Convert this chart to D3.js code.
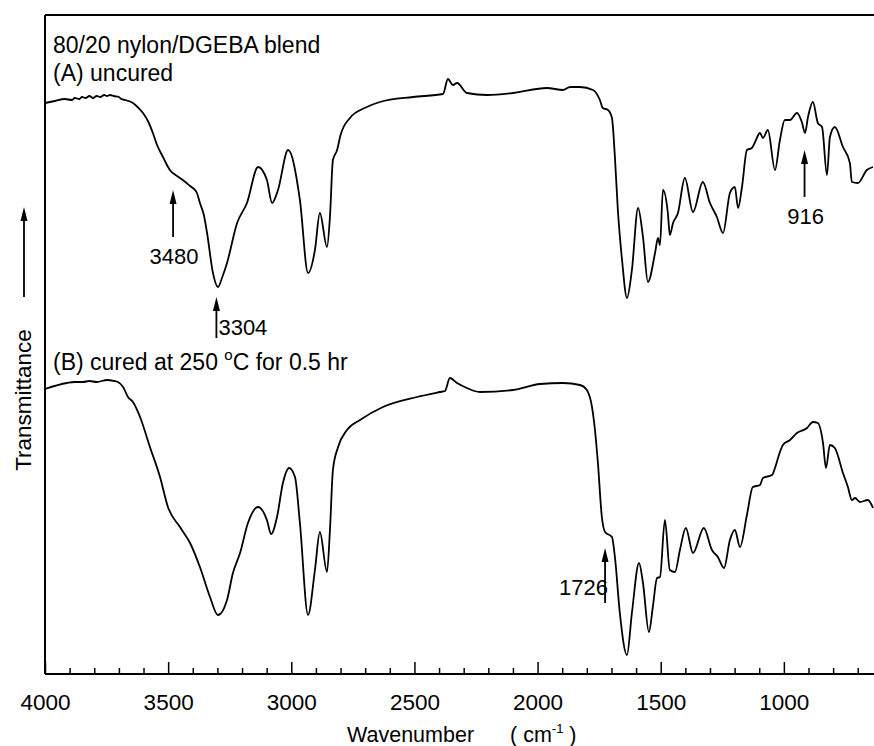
<!DOCTYPE html>
<html>
<head>
<meta charset="utf-8">
<script src="https://cdn.jsdelivr.net/npm/d3@7"></script>
<style>
body { margin: 0; background: #fff; }
text { font-family: "Liberation Sans", Arial, Helvetica, sans-serif; fill: #000; }
</style>
</head>
<body>
<div id="chart1"></div>
<script>
// FTIR spectra, transmittance in arbitrary units (no y ticks in the original)
var uncured = [
  [4000,571],[3960,573],[3920,575],[3890,574],[3880,576],[3860,575],[3850,577],[3835,576],[3820,578],[3805,576],
  [3790,578],[3775,577],[3760,579],[3748,578],[3736,579],[3720,578],[3700,577],[3690,575],[3675,574],[3660,573],
  [3643,571],[3620,566],[3602,561],[3580,552],[3562,541],[3545,529],[3521,517],[3505,509],[3493,504],[3470,499],
  [3452,496],[3430,492],[3411,488],[3400,486],[3383,481],[3371,471],[3355,459],[3342,441],[3318,401],[3298,387],
  [3280,397],[3261,411],[3220,451],[3180,471],[3135,507],[3099,494],[3078,471],[3054,484],[3013,524],[2965,474],
  [2932,401],[2904,424],[2884,461],[2855,427],[2843,457],[2831,514],[2814,524],[2800,539],[2762,556],[2693,567],
  [2640,572],[2506,577],[2384,580],[2364,595],[2344,589],[2327,591],[2287,581],[2205,579],[2100,581],[1962,586],
  [1897,584],[1868,587],[1828,587],[1775,584],[1747,574],[1735,566],[1714,564],[1698,556],[1686,517],[1674,464],
  [1657,414],[1637,376],[1617,404],[1592,466],[1572,437],[1552,392],[1523,421],[1511,436],[1503,429],[1491,484],
  [1471,461],[1463,439],[1450,451],[1430,461],[1402,496],[1369,462],[1329,492],[1300,471],[1272,457],[1247,441],
  [1219,481],[1199,487],[1186,466],[1170,487],[1150,524],[1130,526],[1117,532],[1097,541],[1085,536],[1065,544],
  [1036,504],[1016,534],[996,554],[975,554],[947,561],[927,552],[914,541],[902,557],[882,572],[862,551],
  [845,547],[825,499],[813,537],[793,547],[760,527],[732,511],[724,492],[699,491],[663,504],[638,507]
];

var cured = [
  [4000,285],[3911,291],[3880,292],[3846,292],[3820,293],[3790,292],[3748,294],[3720,293],[3704,292],[3683,287],
  [3663,277],[3643,272],[3614,257],[3574,227],[3533,197],[3501,167],[3452,147],[3411,131],[3371,107],[3330,77],
  [3298,59],[3261,74],[3237,101],[3208,121],[3176,151],[3135,167],[3099,154],[3082,140],[3058,157],[3034,191],
  [3009,206],[2985,197],[2965,151],[2932,59],[2904,104],[2884,142],[2855,102],[2843,144],[2831,204],[2810,227],
  [2774,244],[2721,254],[2628,267],[2490,277],[2396,282],[2376,283],[2356,296],[2327,291],[2287,286],[2234,282],
  [2100,284],[1990,290],[1897,291],[1828,289],[1800,284],[1779,267],[1767,244],[1755,211],[1739,157],[1726,142],
  [1698,137],[1686,117],[1666,61],[1637,19],[1617,61],[1588,111],[1572,91],[1548,42],[1532,67],[1515,96],
  [1503,97],[1483,154],[1463,104],[1442,102],[1422,124],[1398,146],[1369,121],[1325,146],[1292,124],[1268,117],
  [1243,106],[1219,134],[1199,144],[1178,127],[1150,159],[1126,187],[1097,189],[1085,196],[1048,199],[1036,206],
  [1020,219],[1004,229],[975,234],[947,241],[906,246],[882,252],[862,251],[841,231],[829,206],[813,229],
  [793,226],[760,201],[740,187],[724,174],[711,176],[691,172],[659,174],[638,166]
];

var majorTicks = [4000, 3500, 3000, 2500, 2000, 1500, 1000];
var minorTicks = [3900,3800,3700,3600,3400,3300,3200,3100,2900,2800,2700,2600,2400,2300,2200,2100,
                  1900,1800,1700,1600,1400,1300,1200,1100,900,800,700];

// band marks: label, wavenumber, arrow tip and tail (transmittance units)
var bandLabels = ["3480", "3304", "916", "1726"];
var bandWave   = [3480, 3304, 916, 1726];
var bandTip    = [484, 377, 524, 126];
var bandTail   = [437, 336, 477, 71];

var w = 874;
var h = 746;

var xScale = d3.scaleLinear()
    .domain([4000, 634])
    .range([45, 874]);

var yScale = d3.scaleLinear()
    .domain([0, 659])
    .range([674, 15]);

var svg = d3.select("#chart1")
    .append("svg")
    .attr("width", w)
    .attr("height", h);

// frame
svg.append("line")
    .attr("x1", xScale(4000)).attr("x2", w)
    .attr("y1", yScale(659)).attr("y2", yScale(659))
    .attr("stroke", "#000").attr("stroke-width", 2);
svg.append("line")
    .attr("x1", xScale(4000)).attr("x2", xScale(4000))
    .attr("y1", yScale(659)).attr("y2", yScale(0))
    .attr("stroke", "#000").attr("stroke-width", 2);

// x axis, ticks pointing in
var xAxisMinor = d3.axisBottom(xScale)
    .tickValues(minorTicks)
    .tickSize(-6)
    .tickFormat("");
var xAxisMajor = d3.axisBottom(xScale)
    .tickValues(majorTicks)
    .tickSize(-12)
    .tickPadding(20)
    .tickFormat(d3.format("d"));

var gMinor = svg.append("g")
    .attr("transform", "translate(0," + yScale(0) + ")")
    .call(xAxisMinor);
var gMajor = svg.append("g")
    .attr("transform", "translate(0," + yScale(0) + ")")
    .call(xAxisMajor);

gMinor.select(".domain").remove();
gMajor.select(".domain")
    .attr("d", "M" + xScale(4000) + ",0H" + w)
    .attr("stroke-width", 2);
svg.selectAll(".tick line").attr("stroke-width", 1.5);
gMajor.selectAll(".tick text")
    .attr("font-size", 22.5)
    .attr("font-family", "Liberation Sans, Arial, sans-serif");

// spectra
var line = d3.line()
    .x(function(d) { return xScale(d[0]); })
    .y(function(d) { return yScale(d[1]); })
    .curve(d3.curveMonotoneX);

svg.append("path")
    .datum(uncured)
    .attr("d", line)
    .attr("fill", "none")
    .attr("stroke", "#000")
    .attr("stroke-width", 1.8);

svg.append("path")
    .datum(cured)
    .attr("d", line)
    .attr("fill", "none")
    .attr("stroke", "#000")
    .attr("stroke-width", 1.8);

// arrows
function arrow(x, yTip, yTail) {
  svg.append("line")
      .attr("x1", x).attr("x2", x)
      .attr("y1", yTip + 10).attr("y2", yTail)
      .attr("stroke", "#000").attr("stroke-width", 1.8);
  svg.append("path")
      .attr("d", "M" + x + "," + yTip + "L" + (x - 3.5) + "," + (yTip + 14) + "L" + (x + 3.5) + "," + (yTip + 14) + "Z")
      .attr("fill", "#000");
}

for (var i = 0; i < bandLabels.length; i++) {
  var bx = xScale(bandWave[i]);
  arrow(bx, yScale(bandTip[i]), yScale(bandTail[i]));
  var t = svg.append("text")
      .attr("font-size", 22)
      .text(bandLabels[i]);
  if (bandLabels[i] === "3304") {
    t.attr("x", bx + 2).attr("y", yScale(bandTail[i]) - 3).attr("text-anchor", "start");
  } else if (bandLabels[i] === "1726") {
    t.attr("x", bx + 3).attr("y", yScale(bandTail[i]) - 8).attr("text-anchor", "end");
  } else {
    t.attr("x", bx + 1).attr("y", yScale(bandTail[i]) + 27).attr("text-anchor", "middle");
  }
}

// labels
svg.append("text")
    .attr("x", 53).attr("y", 53)
    .attr("font-size", 23)
    .text("80/20 nylon/DGEBA blend");
svg.append("text")
    .attr("x", 53).attr("y", 81)
    .attr("font-size", 23)
    .text("(A) uncured");

var bText = svg.append("text")
    .attr("x", 53).attr("y", 370)
    .attr("font-size", 23);
bText.append("tspan").text("(B) cured at 250 ");
bText.append("tspan").attr("font-size", 15).attr("dy", -10).text("o");
bText.append("tspan").attr("dy", 10).text("C for 0.5 hr");

// y axis title with arrow
svg.append("text")
    .attr("transform", "translate(31,400) rotate(-90)")
    .attr("text-anchor", "middle")
    .attr("font-size", 22.5)
    .text("Transmittance");
arrow(24, 207, 297);

// x axis title
var xt = svg.append("text")
    .attr("x", 347).attr("y", 742)
    .attr("font-size", 21.5);
xt.append("tspan").text("Wavenumber");
xt.append("tspan").attr("x", 510).text("( cm");
xt.append("tspan").attr("font-size", 13).attr("dy", -9).text("-1");
xt.append("tspan").attr("dy", 9).text(" )");
</script>
</body>
</html>
